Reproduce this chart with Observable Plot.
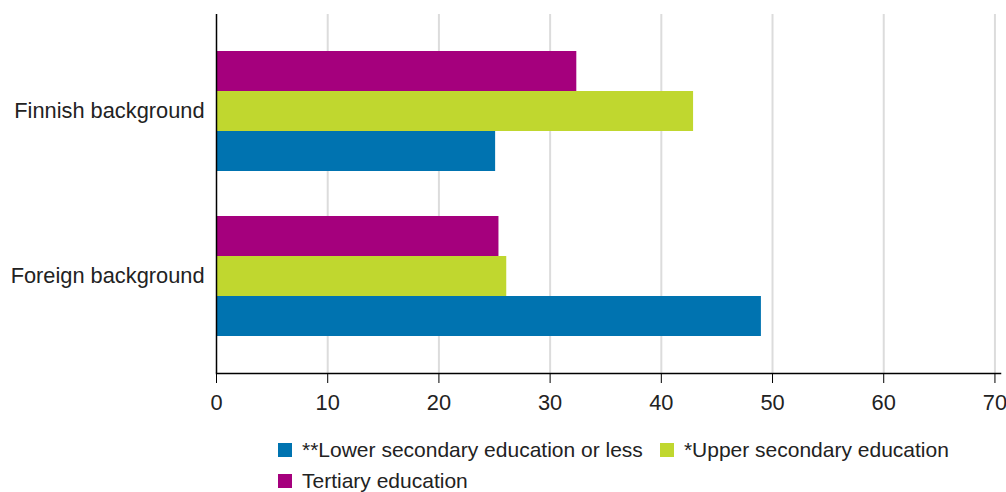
<!DOCTYPE html>
<html>
<head>
<meta charset="utf-8">
<script src="https://cdn.jsdelivr.net/npm/d3@7"></script>
<script src="https://cdn.jsdelivr.net/npm/@observablehq/plot@0.6"></script>
<style>
  html, body { margin: 0; padding: 0; background: #fff; }
  body { width: 1006px; height: 492px; overflow: hidden; font-family: "Liberation Sans", Arial, sans-serif; color: #222; }
  #legend { display: flex; flex-wrap: wrap; width: 720px; margin: 14px 0 0 278px; font-size: 21px; line-height: 31px; }
  .item { display: flex; align-items: center; margin-right: 17px; white-space: nowrap; }
  .sw { width: 14px; height: 14px; margin-right: 10px; flex: none; }
</style>
</head>
<body>
<div id="chart"></div>
<div id="legend"></div>
<script>
// Categories
const backgrounds = ["Finnish background", "Foreign background"];
const levels = ["**Lower secondary education or less", "*Upper secondary education", "Tertiary education"];
const colors = ["#0073B0", "#C0D72F", "#A5007D"];
// Series values (per background, same order as backgrounds)
const lowerSecondary = [25.1, 49.0];
const upperSecondary = [42.9, 26.1];
const tertiary = [32.4, 25.4];
// Tick labels
const xTicks = [0, 10, 20, 30, 40, 50, 60, 70];

const series = [lowerSecondary, upperSecondary, tertiary];
const table = [];
backgrounds.forEach((b, i) => {
  levels.forEach((l, j) => table.push({background: b, level: l, value: series[j][i]}));
});

// bars stacked inside each band from top: tertiary, upper, lower
const topOrder = [levels[2], levels[1], levels[0]];

function build(bw) {
  const third = bw / 3;
  const barMarks = topOrder.map((l, k) =>
    Plot.barX(table.filter(d => d.level === l), {
      y: "background", x: "value", fill: "level",
      insetTop: k * third, insetBottom: (2 - k) * third
    })
  );
  return Plot.plot({
    width: 1006,
    height: 420,
    marginLeft: 216,
    marginRight: 6,
    marginTop: 14,
    marginBottom: 47,
    style: {fontFamily: "'Liberation Sans', Arial, sans-serif", fontSize: "21.8px", color: "#222", background: "#fff"},
    x: {domain: [0, 70.5]},
    y: {domain: backgrounds, paddingInner: 0.27, paddingOuter: 0.22},
    color: {domain: levels, range: colors},
    marks: [
      Plot.ruleX(xTicks.slice(1), {stroke: "#dcdcdc", strokeWidth: 2}),
      ...barMarks,
      Plot.ruleX([0], {stroke: "#000", strokeWidth: 1.5}),
      Plot.frame({anchor: "bottom", stroke: "#000", strokeWidth: 1.5}),
      Plot.axisX({ticks: xTicks, tickSize: 10, tickPadding: 11, label: null, stroke: "#000", fill: "#222"}),
      Plot.axisY({tickSize: 0, tickPadding: 12, label: null, fill: "#222"})
    ]
  });
}

let chart = build(0);
const bw = chart.scale("y").bandwidth;
chart = build(bw);
document.getElementById("chart").appendChild(chart);

const legend = document.getElementById("legend");
levels.forEach((l, j) => {
  const item = document.createElement("div");
  item.className = "item";
  const sw = document.createElement("span");
  sw.className = "sw";
  sw.style.background = colors[j];
  const t = document.createElement("span");
  t.textContent = l;
  item.appendChild(sw);
  item.appendChild(t);
  legend.appendChild(item);
});
</script>
</body>
</html>
